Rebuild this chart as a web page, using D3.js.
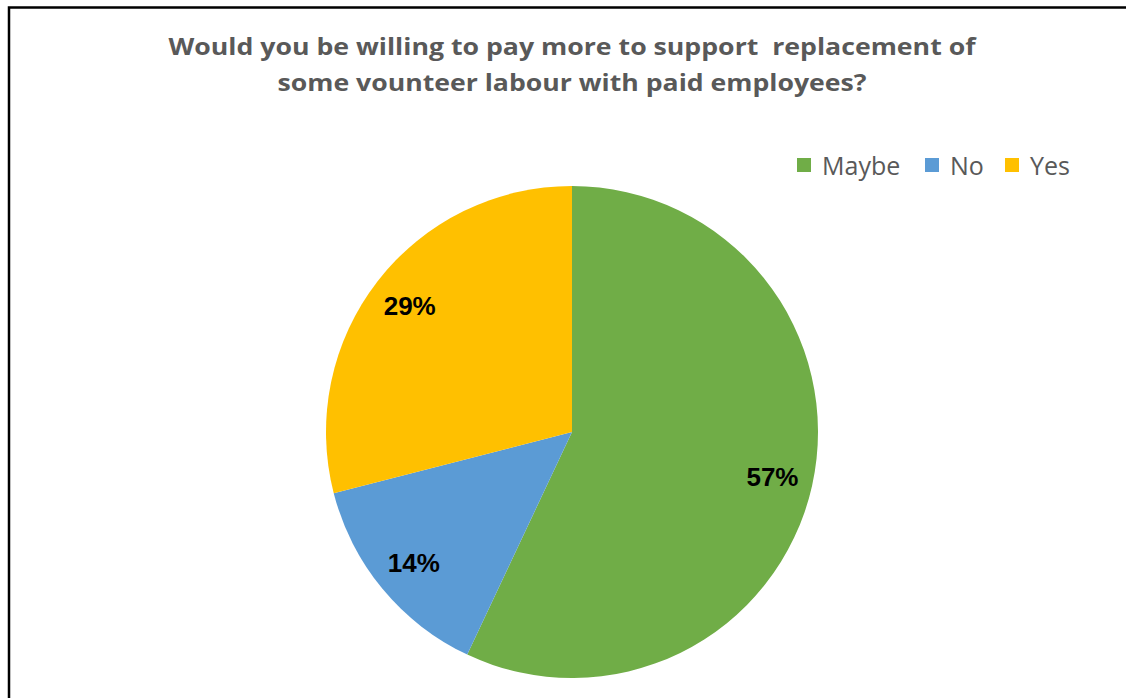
<!DOCTYPE html>
<html><head><meta charset="utf-8">
<script src="https://cdn.jsdelivr.net/npm/d3@7"></script>
<style>body{margin:0;background:#fff;}svg{display:block;}</style>
</head><body>
<svg id="chart" width="1126" height="698"></svg>
<script>
const categories = ["Maybe", "No", "Yes"];
const values = [57, 14, 29];
const colors = ["#70AD47", "#5B9BD5", "#FFC000"];
const titleLines = ["Would you be willing to pay more to support  replacement of", "some vounteer labour with paid employees?"];

const svg = d3.select("#chart");
svg.append("rect").attr("x", 9).attr("y", 7.5).attr("width", 1130).attr("height", 700)
  .attr("fill", "#fff").attr("stroke", "#000").attr("stroke-width", 2.5);

const titleTargets = [807, 589];
const title = svg.append("g");
titleLines.forEach((t, i) => {
  const el = title.append("text").attr("x", 572).attr("y", 55 + i * 36)
    .attr("text-anchor", "middle").attr("font-family", "Open Sans, sans-serif")
    .attr("font-weight", 700).attr("font-size", 23).attr("fill", "#595959")
    .style("white-space", "pre").text(t);
  el.attr("textLength", titleTargets[i]).attr("lengthAdjust", "spacingAndGlyphs");
});

const cx = 572, cy = 432, r = 246;
const pie = d3.pie().sort(null).value(d => d)(values);
const arc = d3.arc().innerRadius(0).outerRadius(r);
const g = svg.append("g").attr("transform", `translate(${cx},${cy})`);
g.selectAll("path").data(pie).join("path").attr("d", arc)
  .attr("fill", (d, i) => colors[i]);

const labelArc = d3.arc().innerRadius(r * 0.835).outerRadius(r * 0.835);
const total = d3.sum(values);
g.selectAll("text.lbl").data(pie).join("text").attr("class", "lbl")
  .attr("transform", d => `translate(${labelArc.centroid(d)})`)
  .attr("text-anchor", "middle").attr("dy", "0.36em")
  .attr("font-family", "Liberation Sans, Arial, sans-serif").attr("font-weight", 700)
  .attr("font-size", 26).attr("fill", "#000")
  .text(d => Math.round(d.data / total * 100) + "%");

const legendX = [797, 925, 1005];
const legend = svg.append("g");
categories.forEach((c, i) => {
  legend.append("rect").attr("x", legendX[i]).attr("y", 158).attr("width", 14).attr("height", 14).attr("fill", colors[i]);
  legend.append("text").attr("x", legendX[i] + 25).attr("y", 175)
    .attr("font-family", "Open Sans, sans-serif").attr("font-size", 25).attr("fill", "#595959").text(c);
});
</script>
</body></html>
